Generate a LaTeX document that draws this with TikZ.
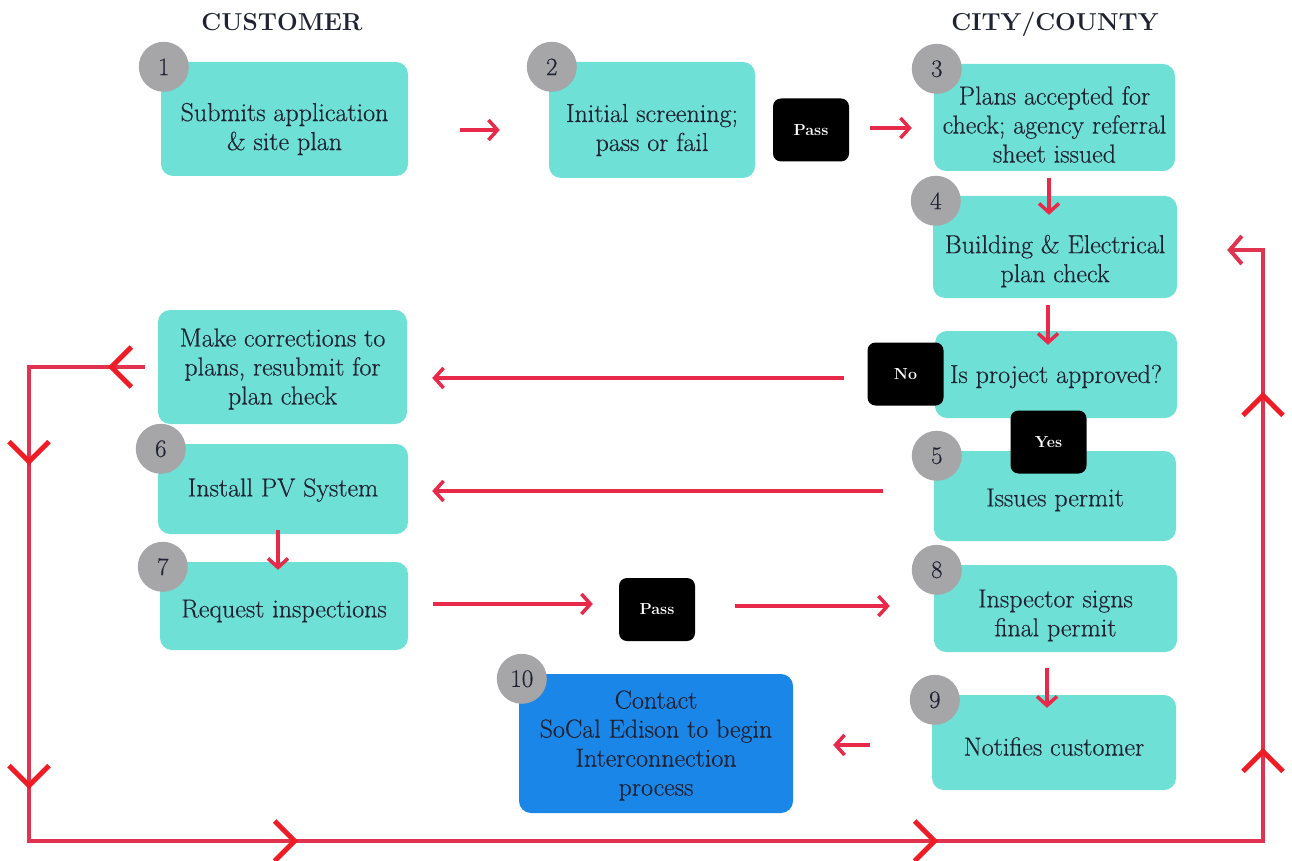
\documentclass[tikz,border=0pt]{standalone}
\usepackage{fontspec}
\usepackage{tikz}
\usetikzlibrary{calc, arrows.meta, positioning}
\usetikzlibrary{decorations.markings}

\newfontfamily\stepfont{Latin Modern Roman}[FakeBold=0.4]

\definecolor{boxteal}{HTML}{6EE0D6}
\definecolor{boxblue}{HTML}{1A87E8}
\definecolor{numgray}{HTML}{A6A6A9}
\definecolor{arrred}{HTML}{E8294A}
\definecolor{loopred}{HTML}{DF3350}
\definecolor{chevred}{HTML}{EE1C25}
\definecolor{inkdark}{HTML}{1F2233}

\tikzset{
  stepbox/.style={fill=boxteal, rounded corners=12pt, inner sep=0pt},
  steptext/.style={align=center, text=inkdark, inner sep=0pt,
    font=\stepfont\fontsize{26}{29}\selectfont},
  numdot/.style={circle, fill=numgray, minimum size=50pt, inner sep=0pt, text=inkdark,
    font=\stepfont\fontsize{25}{25}\selectfont},
  tagbox/.style={fill=black, rounded corners=8pt, text=white, inner sep=0pt,
    font=\bfseries\fontsize{16}{18}\selectfont, minimum width=76pt, minimum height=63pt},
  title/.style={text=inkdark, font=\bfseries\fontsize{24.5}{28}\selectfont},
  flow/.style={draw=arrred, line width=3.5pt, -{Straight Barb[length=9pt, width=20pt]}},
  loopline/.style={draw=loopred, line width=4pt, -{Straight Barb[length=12pt, width=28pt]}}
}

\begin{document}
\begin{tikzpicture}[x=1pt, y=-1pt]
    \newcommand{\chevtip}{\arrow{Straight Barb[length=20pt, width=40pt, line width=5pt, color=chevred]}}
    \useasboundingbox (0,0) rectangle (1292,861);

    % column titles
    \node[title] (tCust) at (282,22) {CUSTOMER};
    \node[title] (tCity) at (1055,24) {CITY/COUNTY};

    % steps
    \node[stepbox, minimum width=247pt, minimum height=114pt] (b1) at (284.5,119) {};
    \node[stepbox, minimum width=206pt, minimum height=116pt] (b2) at (652,120) {};
    \node[stepbox, minimum width=241pt, minimum height=107pt] (b3) at (1054.5,117.5) {};
    \node[stepbox, minimum width=244pt, minimum height=102pt] (b4) at (1055,247) {};
    \node[stepbox, minimum width=242pt, minimum height=87pt] (bq) at (1056,374.5) {};
    \node[stepbox, minimum width=242pt, minimum height=90pt] (b5) at (1055,496) {};
    \node[stepbox, minimum width=249pt, minimum height=114pt] (bc) at (282.5,367) {};
    \node[stepbox, minimum width=250pt, minimum height=90pt] (b6) at (283,489) {};
    \node[stepbox, minimum width=248pt, minimum height=88pt] (b7) at (284,606) {};
    \node[stepbox, minimum width=243pt, minimum height=87pt] (b8) at (1055.5,608.5) {};
    \node[stepbox, minimum width=244pt, minimum height=95pt] (b9) at (1054,742.5) {};
    \node[stepbox, fill=boxblue, minimum width=274pt, minimum height=139pt] (b10) at (656,743.5) {};

    \foreach \b/\dy/\txt in {
        b1/10/{Submits application\\\& site plan},
        b2/10/{Initial screening;\\pass or fail},
        b3/7/{Plans accepted for\\check; agency referral\\sheet issued},
        b4/14/{Building \& Electrical\\plan check},
        bq/2/{Is project approved?},
        b5/4/{Issues permit},
        bc/2/{Make corrections to\\plans, resubmit for\\plan check},
        b6/1/{Install PV System},
        b7/5/{Request inspections},
        b8/7/{Inspector signs\\final permit},
        b9/4/{Notifies customer},
        b10/2/{Contact\\SoCal Edison to begin\\Interconnection\\process}}
    {
        \node[steptext] (\b-t) at ($(\b)+(0,\dy)$) {\txt};
    };

    % step numbers
    \foreach \b/\n in {b1/1, b2/2, b3/3, b4/4, b5/5, b6/6, b7/7, b8/8, b9/9, b10/10}
    {
        \node[numdot] (n\n) at ($(\b.north west)+(3,5)$) {\n};
    };

    % decisions
    \node[tagbox] (pass1) at (811,130) {Pass};
    \node[tagbox] (pass2) at (657,609.5) {Pass};
    \node[tagbox] (no) at (905.5,374) {No};
    \node[tagbox] (yes) at (1048.5,442) {Yes};

    % flow arrows
    \draw[flow] ($(b1.east)+(52,11)$) -- ($(b2.west)+(-49,10)$);
    \draw[flow] ($(pass1.east)+(21,-2)$) -- ($(b3.west)+(-22,10.5)$);
    \draw[flow] ($(b3.south)+(-5.5,7)$) -- ($(b4.north)+(-6,19)$);
    \draw[flow] ($(b4.south)+(-7,7)$) -- ($(bq.north)+(-8,14)$);
    \draw[flow] ($(no.west)+(-23,4)$) -- ($(bc.east)+(25,11)$);
    \draw[flow] ($(b5.west)+(-51,-5)$) -- ($(b6.east)+(24,2)$);
    \draw[flow] ($(b6.south)+(-5,-4)$) -- ($(b7.north)+(-6,8)$);
    \draw[flow] ($(b7.east)+(25,-2)$) -- ($(pass2.west)+(-26,-5.5)$);
    \draw[flow] ($(pass2.east)+(40,-3.5)$) -- ($(b8.west)+(-44,-2.5)$);
    \draw[flow] ($(b8.south)+(-8.5,16)$) -- ($(b9.north)+(-7,13)$);
    \draw[flow] ($(b9.west)+(-62,2.5)$) -- ($(b10.east)+(40,1.5)$);

    % resubmission loop
    \coordinate (loopSW) at (29,841);
    \coordinate (loopSE) at (1263,841);
    \draw[loopline, postaction={decorate}, decoration={markings,
        mark=at position 37pt with {\chevtip},
        mark=at position 214pt with {\chevtip},
        mark=at position 538pt with {\chevtip},
        mark=at position 859pt with {\chevtip},
        mark=at position 1499pt with {\chevtip},
        mark=at position 1917pt with {\chevtip},
        mark=at position 2273pt with {\chevtip}}]
        ($(bc.west)+(-13,0)$) -| (loopSW) -- (loopSE) |- ($(b4.east)+(50,3)$);
\end{tikzpicture}
\end{document}
